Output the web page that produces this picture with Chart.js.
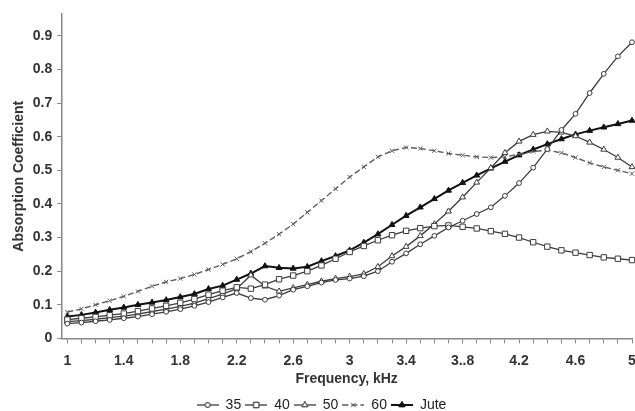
<!DOCTYPE html>
<html>
<head>
<meta charset="utf-8">
<script src="https://cdn.jsdelivr.net/npm/chart.js@4.4.1/dist/chart.umd.min.js"></script>
<style>
  html, body { margin: 0; padding: 0; background: #fff; }
  #wrap { width: 635px; height: 411px; }
</style>
</head>
<body>
<div id="wrap"><canvas id="chart" width="635" height="411"></canvas></div>
<script>
// frequency steps, kHz
const freqs = [1.0,1.1,1.2,1.3,1.4,1.5,1.6,1.7,1.8,1.9,2.0,2.1,2.2,2.3,2.4,2.5,2.6,2.7,2.8,2.9,
               3.0,3.1,3.2,3.3,3.4,3.5,3.6,3.7,3.8,3.9,4.0,4.1,4.2,4.3,4.4,4.5,4.6,4.7,4.8,4.9,5.0];

const s35 = [.044,.047,.051,.055,.060,.065,.072,.079,.087,.097,.108,.122,.135,.120,.115,.127,.145,.155,.166,.174,
             .178,.185,.200,.228,.253,.280,.305,.330,.350,.370,.390,.424,.462,.508,.563,.620,.668,.730,.787,.839,.881];
const s40 = [.056,.060,.064,.069,.074,.081,.089,.097,.106,.117,.130,.142,.152,.148,.160,.176,.187,.200,.217,.237,
             .257,.275,.292,.307,.320,.328,.334,.336,.332,.327,.319,.311,.300,.286,.273,.262,.255,.248,.241,.237,.233];
const s50 = [.050,.053,.057,.062,.066,.072,.080,.087,.095,.105,.118,.132,.148,.188,.155,.140,.150,.160,.170,.178,
             .184,.192,.213,.245,.273,.305,.340,.378,.420,.464,.507,.552,.586,.606,.616,.613,.602,.583,.562,.538,.510];
const s60 = [.078,.088,.100,.112,.125,.140,.155,.168,.178,.190,.205,.220,.237,.258,.283,.310,.340,.375,.410,.445,
             .480,.510,.540,.558,.568,.565,.558,.550,.545,.540,.538,.540,.548,.556,.560,.552,.538,.522,.510,.500,.490];
const jute = [.065,.070,.077,.085,.092,.100,.107,.114,.123,.132,.147,.157,.175,.193,.215,.210,.208,.213,.230,.245,
              .262,.285,.310,.338,.365,.390,.415,.440,.463,.485,.506,.526,.545,.562,.578,.593,.607,.618,.628,.638,.648];

const seriesNames = ['35', '40', '50', '60', 'Jute'];
const xTickLabels = ['1', '1.4', '1.8', '2.2', '2.6', '3', '3.4', '3..8', '4.2', '4.6', '5'];
const yTicks = [0, 0.1, 0.2, 0.3, 0.4, 0.5, 0.6, 0.7, 0.8, 0.9];

const styles = [
  { color: '#3c3c3c', point: 'circle', radius: 2.4, fill: '#fff', width: 1.3, dash: [] },
  { color: '#3c3c3c', point: 'rect', radius: 3.8, fill: '#fff', width: 1.3, dash: [] },
  { color: '#3c3c3c', point: 'triangle', radius: 3.4, fill: '#fff', width: 1.3, dash: [] },
  { color: '#5e5e5e', point: 'crossRot', radius: 3, fill: '#fff', width: 1.4, dash: [6, 3] },
  { color: '#111', point: 'triangle', radius: 3.4, fill: '#111', width: 2, dash: [] }
];

function toPoints(vals) {
  return freqs.map((f, i) => ({ x: f, y: vals[i] }));
}

// little "line + marker" picture used as the legend symbol
function legendIcon(st) {
  const c = document.createElement('canvas');
  c.width = 22; c.height = 10;
  const g = c.getContext('2d');
  g.strokeStyle = st.color;
  g.lineWidth = st.width;
  g.setLineDash(st.dash);
  g.beginPath(); g.moveTo(0, 5); g.lineTo(22, 5); g.stroke();
  g.setLineDash([]);
  g.lineWidth = 1;
  g.fillStyle = st.fill;
  Chart.helpers.drawPoint(g, { pointStyle: st.point, radius: st.radius, borderWidth: 1 }, 11, 5);
  g.fill();
  g.stroke();
  return c;
}

const allSeries = [s35, s40, s50, s60, jute];

const datasets = allSeries.map((vals, i) => {
  const st = styles[i];
  return {
    label: seriesNames[i],
    data: toPoints(vals),
    borderColor: st.color,
    borderWidth: st.width,
    borderDash: st.dash,
    pointStyle: st.point,
    pointRadius: st.radius,
    pointBorderWidth: 1,
    pointBorderColor: st.color,
    pointBackgroundColor: st.fill,
    tension: 0,
    clip: false
  };
});

const icons = styles.map(legendIcon);
const boldFont = { family: 'Liberation Sans', size: 14, weight: 'bold' };

const chart = new Chart(document.getElementById('chart'), {
  type: 'line',
  data: { datasets: datasets },
  options: {
    responsive: false,
    animation: false,
    layout: { autoPadding: false, padding: { top: 14, right: 3, left: 11, bottom: -11 } },
    plugins: {
      tooltip: { enabled: false },
      legend: {
        position: 'bottom',
        labels: {
          color: '#222',
          font: { family: 'Liberation Sans', size: 14 },
          usePointStyle: true,
          pointStyleWidth: 22,
          padding: 4,
          generateLabels: (ch) => Chart.defaults.plugins.legend.labels.generateLabels(ch).map((it, i) => {
            it.pointStyle = icons[i];
            return it;
          })
        }
      }
    },
    scales: {
      x: {
        type: 'linear',
        min: 0.957,
        max: 5.0,
        afterBuildTicks: (axis) => {
          axis.ticks = freqs.map(f => ({ value: f }));
        },
        // let the last label hang over the right edge like the original
        afterFit: (axis) => {
          axis.paddingRight = 0;
        },
        ticks: {
          autoSkip: false,
          maxRotation: 0,
          padding: 9,
          color: '#333',
          font: boldFont,
          callback: (v, idx) => (idx % 4 === 0 ? xTickLabels[idx / 4] : '')
        },
        grid: { drawOnChartArea: false, drawTicks: true, tickLength: 5, color: '#888', lineWidth: 1 },
        border: { color: '#888', width: 1.5 },
        title: {
          display: true,
          text: 'Frequency, kHz',
          color: '#333',
          font: boldFont,
          padding: { top: -7, bottom: 6 }
        }
      },
      y: {
        type: 'linear',
        min: 0,
        max: 0.965,
        afterBuildTicks: (axis) => {
          axis.ticks = yTicks.map(v => ({ value: v }));
        },
        ticks: {
          padding: 5,
          color: '#333',
          font: boldFont,
          callback: (v) => String(Math.round(v * 10) / 10)
        },
        grid: { drawOnChartArea: false, drawTicks: true, tickLength: 4, color: '#888' },
        border: { color: '#888', width: 1.5 },
        title: {
          display: true,
          text: 'Absorption Coefficient',
          color: '#333',
          font: boldFont,
          padding: { top: 0, bottom: 0 }
        }
      }
    }
  }
});
</script>
</body>
</html>
